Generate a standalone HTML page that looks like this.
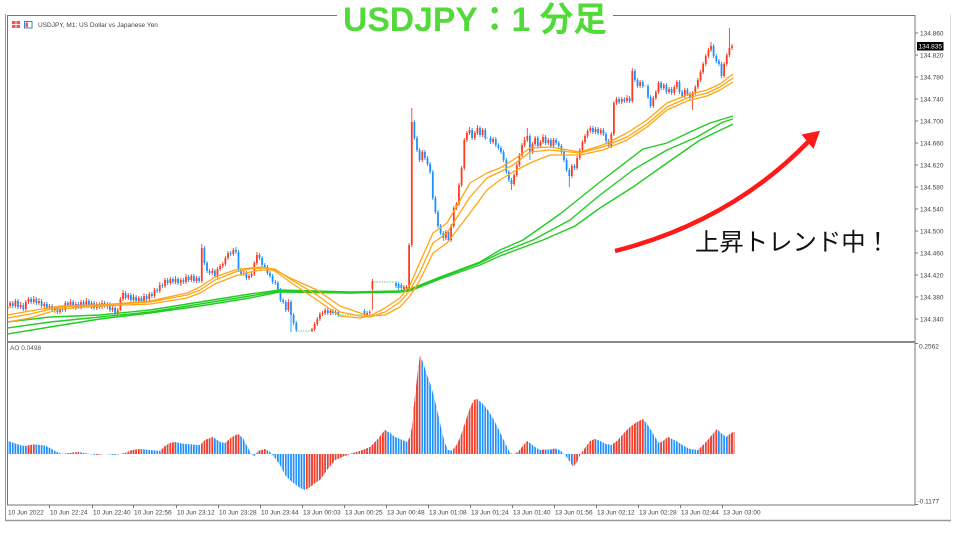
<!DOCTYPE html>
<html><head><meta charset="utf-8"><title>USDJPY M1</title>
<style>
html,body{margin:0;padding:0;background:#fff;width:960px;height:540px;overflow:hidden;}
svg{display:block;}
.ax{font-family:"Liberation Sans",sans-serif;font-size:6.5px;fill:#444;}
</style></head><body>
<svg width="960" height="540" viewBox="0 0 960 540" xmlns="http://www.w3.org/2000/svg">
<defs>
<clipPath id="cm"><rect x="8" y="16" width="907" height="325"/></clipPath>
<clipPath id="ca"><rect x="8" y="343" width="907" height="162"/></clipPath>
<clipPath id="cr">
<rect x="27" y="343" width="8" height="162"/><rect x="63" y="343" width="16" height="162"/>
<rect x="96" y="343" width="9" height="162"/><rect x="116" y="343" width="25" height="162"/>
<rect x="161" y="343" width="15" height="162"/><rect x="201" y="343" width="13" height="162"/>
<rect x="226" y="343" width="14" height="162"/><rect x="256" y="343" width="10" height="162"/>
<rect x="306" y="343" width="81" height="162"/><rect x="408" y="343" width="13" height="162"/>
<rect x="453" y="343" width="25" height="162"/><rect x="515" y="343" width="13" height="162"/>
<rect x="541" y="343" width="5" height="162"/><rect x="551" y="343" width="5" height="162"/>
<rect x="574" y="343" width="22" height="162"/><rect x="613" y="343" width="31" height="162"/>
<rect x="660" y="343" width="9" height="162"/><rect x="699" y="343" width="19" height="162"/>
<rect x="727" y="343" width="8" height="162"/>
</clipPath>
<pattern id="pb" patternUnits="userSpaceOnUse" x="6.65" y="0" width="2.625" height="540"><rect width="1.7" height="540" fill="#1e8fff"/></pattern>
<pattern id="pr" patternUnits="userSpaceOnUse" x="6.65" y="0" width="2.625" height="540"><rect width="1.7" height="540" fill="#ff3b1f"/></pattern>
</defs>
<rect width="960" height="540" fill="#fff"/>
<!-- frames -->
<line x1="5.5" y1="14" x2="5.5" y2="521" stroke="#999"/>
<line x1="950.5" y1="14" x2="950.5" y2="521" stroke="#ddd"/>
<line x1="5" y1="520.5" x2="951" y2="520.5" stroke="#999" stroke-width="1.5"/>
<rect x="7.5" y="15.5" width="907.5" height="489.5" fill="none" stroke="#777"/>
<line x1="7.5" y1="342" x2="915" y2="342" stroke="#888" stroke-width="2"/>

<!-- header -->
<rect x="12" y="21" width="8" height="7" fill="#e85a5a"/>
<line x1="16" y1="21" x2="16" y2="28" stroke="#fff" stroke-width="0.8"/>
<line x1="12" y1="24.5" x2="20" y2="24.5" stroke="#fff" stroke-width="0.8"/>
<rect x="24.5" y="21.5" width="7.5" height="6.5" fill="#fff" stroke="#3a7fe0" stroke-width="1"/>
<rect x="25.5" y="22.5" width="2.5" height="4.5" fill="#e85a5a"/>
<text class="ax" x="38" y="27" fill="#333">USDJPY, M1:  US Dollar vs Japanese Yen</text>

<!-- candles -->
<g clip-path="url(#cm)" fill="none">
<path stroke="#ff3b1f" stroke-width="0.9" d="M7.5 304V311M10.1 301V308M15.4 299V308M20.6 302V309M25.9 300V311M28.5 297V304M33.8 296V304M39 298V305M44.3 302V309M49.5 304V310M54.8 306V313M60 307V314M65.3 301V312M70.5 299V307M75.8 302V310M81 300V309M86.3 298V307M91.5 301V309M96.8 302V310M102 300V309M107.3 302V309M112.5 306V312M117.8 308V316M120.4 297V311M123 290V301M128.3 293V300M133.5 294V302M138.8 296V303M144 293V303M149.3 292V301M154.5 288V298M159.8 282V293M165 278V288M170.3 277V285M175.5 276V284M180.8 278V286M186 274V284M191.3 274V282M196.5 276V283M201.8 244V283M212.3 268V275M217.5 267V278M220.1 264V271M222.8 262V268M225.4 256V266M228 251V260M233.3 248V256M243.8 271V276M249 274V280M251.6 272V278M254.3 261V276M256.9 252V265M288.4 299V312M312 328V332M314.6 322V331M317.3 317V326M319.9 312V321M322.5 311V316M325.1 308V315M330.4 309V315M335.6 310V315M367.1 311V317M369.8 310V315M372.4 279V310M403.9 285V291M406.5 285V290M409.1 243V290M411.8 108V247M422.3 150V162M445.9 230V240M451.1 224V242M453.8 206V228M456.4 202V210M459 183V206M461.6 166V187M464.3 138V170M466.9 131V142M469.5 127V135M474.8 131V140M477.4 125V135M482.6 128V137M493.1 137V144M514.1 173V186M516.8 163V177M519.4 153V167M522 143V157M524.6 137V147M527.3 128V142M532.5 142V154M535.1 136V146M540.4 140V148M543 134V144M548.3 138V145M553.5 138V148M571.9 164V178M577.1 156V170M579.8 148V160M582.4 140V152M585 134V144M587.6 129V138M590.3 126V133M595.5 127V134M600.8 128V135M611.3 132V148M613.9 101V136M616.5 97V105M621.8 97V104M627 95V103M632.3 68V103M640.1 80V88M653.3 96V108M655.9 90V100M658.5 81V94M663.8 83V90M669 87V94M674.3 85V95M676.9 80V89M684.8 88V98M692.6 91V110M695.3 85V95M697.9 78V89M700.5 70V82M703.1 62V74M705.8 54V66M708.4 48V58M711 42V52M724.1 62V78M726.8 53V66M729.4 28V57M732 44V50"/>
<path stroke="#ff3b1f" stroke-width="1.8" d="M7.5 306V309M10.1 303V306M15.4 301V306M20.6 305V307M25.9 302V309M28.5 299V302M33.8 299V302M39 301V303M44.3 304V306M49.5 306V308M54.8 308V310M60 309V312M65.3 303V310M70.5 302V305M75.8 304V307M81 302V307M86.3 301V305M91.5 303V306M96.8 304V308M102 303V307M107.3 304V306M112.5 308V310M117.8 310V313M120.4 299V310M123 293V299M128.3 295V298M133.5 297V300M138.8 298V301M144 296V301M149.3 294V299M154.5 290V296M159.8 285V291M165 280V286M170.3 279V283M175.5 279V282M180.8 280V283M186 277V282M191.3 276V280M196.5 278V281M201.8 248V281M212.3 271V273M217.5 269V276M220.1 266V269M222.8 264V266M225.4 258V264M228 253V258M233.3 250V254M243.8 273V274M249 276V278M251.6 274V276M254.3 263V274M256.9 255V263M288.4 302V310M312 329V331M314.6 324V329M317.3 319V324M319.9 314V319M322.5 313V314M325.1 310V313M330.4 311V313M335.6 312V313M367.1 313V315M369.8 312V313M372.4 281V289M403.9 287V289M406.5 287V288M409.1 245V288M411.8 122V245M422.3 152V160M445.9 232V238M451.1 226V240M453.8 208V226M456.4 204V208M459 185V204M461.6 168V185M464.3 140V168M466.9 133V140M469.5 130V133M474.8 133V138M477.4 128V133M482.6 130V135M493.1 139V142M514.1 175V184M516.8 165V175M519.4 155V165M522 145V155M524.6 140V145M527.3 136V140M532.5 144V152M535.1 138V144M540.4 142V146M543 137V142M548.3 140V143M553.5 140V146M571.9 166V176M577.1 158V168M579.8 150V158M582.4 142V150M585 136V142M587.6 131V136M590.3 128V131M595.5 129V132M600.8 130V133M611.3 134V146M613.9 103V134M616.5 99V103M621.8 99V102M627 98V101M632.3 71V101M640.1 82V86M653.3 98V106M655.9 92V98M658.5 83V92M663.8 85V88M669 89V92M674.3 87V93M676.9 82V87M684.8 90V96M692.6 93V98M695.3 87V93M697.9 80V87M700.5 72V80M703.1 64V72M705.8 56V64M708.4 50V56M711 46V50M724.1 64V76M726.8 55V64M729.4 48V55M732 46V48"/>
<path stroke="#1e8fff" stroke-width="0.9" d="M12.8 301V308M18 299V309M23.3 303V311M31.1 297V304M36.4 297V305M41.6 299V308M46.9 302V310M52.1 304V312M57.4 306V314M62.6 307V312M67.9 301V307M73.1 300V309M78.4 302V309M83.6 300V307M88.9 299V308M94.1 301V310M99.4 302V309M104.6 301V308M109.9 302V312M115.1 306V315M125.6 291V300M130.9 293V302M136.1 295V303M141.4 296V303M146.6 294V301M151.9 292V298M157.1 288V293M162.4 283V288M167.6 278V285M172.9 277V284M178.1 277V285M183.4 278V284M188.6 275V282M193.9 274V283M199.1 276V283M204.4 246V265M207 261V273M209.6 269V275M214.9 269V278M230.6 251V256M235.9 247V254M238.5 250V272M241.1 268V276M246.4 271V280M259.5 253V260M262.1 256V267M264.8 263V269M267.4 265V275M270 271V278M272.6 274V284M275.3 280V285M277.9 281V292M280.5 288V302M283.1 298V304M285.8 300V312M291 300V332M293.6 313V325M296.3 321V332M327.8 308V315M333 309V315M338.3 310V317M364.5 309V317M396 281V288M398.6 282V290M401.3 283V290M414.4 120V140M417 136V152M419.6 148V162M424.9 150V160M427.5 156V166M430.1 162V174M432.8 170V200M435.4 196V214M438 210V228M440.6 224V235M443.3 231V241M448.5 230V242M472.1 128V140M480 126V137M485.3 128V140M490.5 136V144M495.8 137V147M498.4 143V150M501 146V154M503.6 150V162M506.3 158V174M508.9 170V182M511.5 178V190M529.9 134V160M537.8 136V148M545.6 135V145M550.9 138V148M556.1 138V145M558.8 141V148M561.4 144V154M564 150V162M566.6 158V172M569.3 168V187M574.5 164V170M592.9 126V134M598.1 127V135M603.4 128V136M606 132V143M608.6 139V148M619.1 97V104M624.4 97V103M629.6 96V103M634.9 69V82M637.5 78V88M642.8 80V88M648 84V99M650.6 95V108M661.1 81V90M666.4 83V94M671.6 87V95M679.5 80V94M682.1 90V98M687.4 88V96M690 92V100M713.6 44V58M716.3 54V63M718.9 59V66M721.5 62V78"/>
<path stroke="#1e8fff" stroke-width="1.8" d="M12.8 303V306M18 301V307M23.3 305V309M31.1 299V302M36.4 299V303M41.6 301V306M46.9 304V308M52.1 306V310M57.4 308V312M62.6 309V310M67.9 303V305M73.1 302V307M78.4 304V307M83.6 302V305M88.9 301V306M94.1 303V308M99.4 304V307M104.6 303V306M109.9 304V310M115.1 308V313M125.6 293V298M130.9 295V300M136.1 297V301M141.4 298V301M146.6 296V299M151.9 294V296M157.1 290V291M162.4 285V286M167.6 280V283M172.9 279V282M178.1 279V283M183.4 280V282M188.6 277V280M193.9 276V281M199.1 278V281M204.4 248V263M207 263V271M209.6 271V273M214.9 271V276M230.6 253V254M235.9 250V252M238.5 252V270M241.1 270V274M246.4 273V278M259.5 255V258M262.1 258V265M264.8 265V267M267.4 267V273M270 273V276M272.6 276V282M275.3 282V283M277.9 283V290M280.5 290V300M283.1 300V302M285.8 302V310M291 302V315M293.6 315V323M296.3 323V330M327.8 310V313M333 311V313M338.3 312V315M364.5 311V315M396 283V286M398.6 284V288M401.3 285V288M414.4 122V138M417 138V150M419.6 150V160M424.9 152V158M427.5 158V164M430.1 164V172M432.8 172V198M435.4 198V212M438 212V226M440.6 226V233M443.3 233V238M448.5 232V240M472.1 130V138M480 128V135M485.3 130V138M490.5 138V142M495.8 139V145M498.4 145V148M501 148V152M503.6 152V160M506.3 160V172M508.9 172V180M511.5 180V184M529.9 136V152M537.8 138V146M545.6 137V143M550.9 140V146M556.1 140V143M558.8 143V146M561.4 146V152M564 152V160M566.6 160V170M569.3 170V176M574.5 166V168M592.9 128V132M598.1 129V133M603.4 130V134M606 134V141M608.6 141V146M619.1 99V102M624.4 99V101M629.6 98V101M634.9 71V80M637.5 80V86M642.8 82V86M648 86V97M650.6 97V106M661.1 83V88M666.4 85V92M671.6 89V93M679.5 82V92M682.1 92V96M687.4 90V94M690 94V98M713.6 46V56M716.3 56V61M718.9 61V64M721.5 64V76"/>
<path stroke="#66cc66" stroke-width="1" stroke-dasharray="1.5 1.1" d="M297.6 331H310.7M339.6 315H363.2M373.7 282H394.7M486.6 138H489.2M644.1 86H646.7"/>
<!-- moving averages -->
<g stroke="#22cc22" stroke-width="1.4" stroke-linejoin="round">
<polyline points="7.5,322 50,317 100,315 150,310 200,302 250,294 280,290 350,292 400,291 410,289 440,277 480,262 500,250 523,240 560,214 600,182 643,149 667,143 690,132 710,123 733,116"/>
<polyline points="7.5,328 50,322 100,317 150,312 200,304 250,296 280,291 350,293 400,292 410,290 440,278 480,263 500,253 533,240 570,220 600,195 633,170 667,150 697,137 723,122 733,119"/>
<polyline points="7.5,334 50,327 100,319 150,313 200,306 250,298 280,292 350,293 400,292 410,291 440,279 480,265 500,256 543,240 575,226 600,208 633,187 667,163 700,140 733,124"/>
</g>
<g stroke="#ffa516" stroke-width="1.3" stroke-linejoin="round">
<polyline points="7.5,315 30,311 60,306 100,305 150,301 187,293 200,287 215,277 235,270 250,268 262,267 275,271 290,282 317,300 340,316 360,318 370,316 385,308 400,298 410,285 420,262 433,233 447,223 470,183 487,173 500,168 513,160 530,148 550,147 580,152 603,145 627,133 647,120 667,103 687,95 707,90 720,84 733,74"/>
<polyline points="7.5,318 30,314 60,307 100,305 150,302 187,295 200,290 215,280 235,272 250,269 262,268 275,269 290,279 317,295 340,312 360,316 370,317 385,312 400,302 410,290 420,272 433,243 447,233 470,197 487,178 500,172 513,165 530,152 550,150 580,153 603,147 627,137 647,124 667,107 687,98 707,93 720,87 733,78"/>
<polyline points="7.5,322 30,318 60,309 100,306 150,304 187,298 200,293 215,284 235,276 250,272 262,270 275,270 290,278 317,290 340,306 360,313 370,316 385,315 400,307 410,296 420,280 433,253 447,243 470,213 487,190 500,180 513,172 530,163 550,155 580,155 603,150 627,140 647,127 667,110 687,101 707,96 720,90 733,82"/>
</g>
</g>

<!-- AO histogram -->
<g clip-path="url(#ca)">
<polygon id="aoshape" fill="url(#pb)" points="6.5,441 8,441 14,443 20,445 25,446 30,445 35,444.5 45,445.5 50,448 55,451 62,454 70,453 78,452 85,453 95,455 105,454 115,455 125,453 132,450 140,449 150,450 160,451 165,446 170,443 175,442 185,444 200,445 205,440 213,437 220,442 225,443 232,437 238,434 243,438 248,448 252,455 255,456 258,451 265,449 270,452 275,458 280,465 285,475 292,482 300,488 305,490 310,487 315,483 320,480 327,470 335,460 342,457 350,454 360,451 370,447 377,440 385,430 390,433 395,437 400,439 407,442 410,437 412,427 414,405 416,387 418,370 420,356 423,362 426,372 430,383 433,393 436,405 439,418 442,432 445,443 448,450 452,450.5 456,446 460,438 464,426 467,417 470,408 474,400 477,399 482,403 488,410 494,420 500,432 505,443 510,453 514,454 518,452 522,447 527,441 530,443 535,447 540,450 545,449.5 550,449.5 555,448.5 560,450 565,455 570,462 573,467 577,462 580,455 585,448 590,441 595,439 600,441 606,444 612,445 618,440 624,433 630,427 637,422 643,419 647,424 651,430 655,437 659,443 663,441 668,437 672,439 678,442 684,446 690,449 698,450 702,446 707,441 712,435 717,429 721,433 726,437 730,434 733,432 734.5,432 734.5,454 6.5,454"/>
</g>
<g clip-path="url(#cr)">
<polygon fill="url(#pr)" points="6.5,441 8,441 14,443 20,445 25,446 30,445 35,444.5 45,445.5 50,448 55,451 62,454 70,453 78,452 85,453 95,455 105,454 115,455 125,453 132,450 140,449 150,450 160,451 165,446 170,443 175,442 185,444 200,445 205,440 213,437 220,442 225,443 232,437 238,434 243,438 248,448 252,455 255,456 258,451 265,449 270,452 275,458 280,465 285,475 292,482 300,488 305,490 310,487 315,483 320,480 327,470 335,460 342,457 350,454 360,451 370,447 377,440 385,430 390,433 395,437 400,439 407,442 410,437 412,427 414,405 416,387 418,370 420,356 423,362 426,372 430,383 433,393 436,405 439,418 442,432 445,443 448,450 452,450.5 456,446 460,438 464,426 467,417 470,408 474,400 477,399 482,403 488,410 494,420 500,432 505,443 510,453 514,454 518,452 522,447 527,441 530,443 535,447 540,450 545,449.5 550,449.5 555,448.5 560,450 565,455 570,462 573,467 577,462 580,455 585,448 590,441 595,439 600,441 606,444 612,445 618,440 624,433 630,427 637,422 643,419 647,424 651,430 655,437 659,443 663,441 668,437 672,439 678,442 684,446 690,449 698,450 702,446 707,441 712,435 717,429 721,433 726,437 730,434 733,432 734.5,432 734.5,454 6.5,454"/>
</g>

<!-- right axis -->
<g stroke="#777" stroke-width="1">
<line x1="915" y1="33" x2="918" y2="33"/><line x1="915" y1="55" x2="918" y2="55"/>
<line x1="915" y1="77" x2="918" y2="77"/><line x1="915" y1="99" x2="918" y2="99"/>
<line x1="915" y1="121" x2="918" y2="121"/><line x1="915" y1="143" x2="918" y2="143"/>
<line x1="915" y1="165" x2="918" y2="165"/><line x1="915" y1="187" x2="918" y2="187"/>
<line x1="915" y1="209" x2="918" y2="209"/><line x1="915" y1="231" x2="918" y2="231"/>
<line x1="915" y1="253" x2="918" y2="253"/><line x1="915" y1="275" x2="918" y2="275"/>
<line x1="915" y1="297" x2="918" y2="297"/><line x1="915" y1="319" x2="918" y2="319"/>
<line x1="915" y1="343.5" x2="918" y2="343.5"/><line x1="915" y1="504.5" x2="918" y2="504.5"/>
</g>
<text class="ax" x="920" y="35.3">134.860</text>
<text class="ax" x="920" y="57.3">134.820</text>
<text class="ax" x="920" y="79.3">134.780</text>
<text class="ax" x="920" y="101.3">134.740</text>
<text class="ax" x="920" y="123.3">134.700</text>
<text class="ax" x="920" y="145.3">134.660</text>
<text class="ax" x="920" y="167.3">134.620</text>
<text class="ax" x="920" y="189.3">134.580</text>
<text class="ax" x="920" y="211.3">134.540</text>
<text class="ax" x="920" y="233.3">134.500</text>
<text class="ax" x="920" y="255.3">134.460</text>
<text class="ax" x="920" y="277.3">134.420</text>
<text class="ax" x="920" y="299.3">134.380</text>
<text class="ax" x="920" y="321.3">134.340</text>
<rect x="917" y="42" width="26.5" height="8.5" fill="#000"/>
<text class="ax" x="918.5" y="48.6" style="fill:#fff">134.835</text>
<text class="ax" x="919" y="348.5">0.2562</text>
<text class="ax" x="917.5" y="503.5">-0.1177</text>
<text class="ax" x="10" y="350" style="fill:#555">AO 0.0498</text>

<!-- time axis -->
<g stroke="#777" stroke-width="1">
<line x1="49.5" y1="505" x2="49.5" y2="508"/><line x1="92.5" y1="505" x2="92.5" y2="508"/>
<line x1="133.5" y1="505" x2="133.5" y2="508"/><line x1="176.5" y1="505" x2="176.5" y2="508"/>
<line x1="218.5" y1="505" x2="218.5" y2="508"/><line x1="260.5" y1="505" x2="260.5" y2="508"/>
<line x1="302.5" y1="505" x2="302.5" y2="508"/><line x1="344.5" y1="505" x2="344.5" y2="508"/>
<line x1="386.5" y1="505" x2="386.5" y2="508"/><line x1="428.5" y1="505" x2="428.5" y2="508"/>
<line x1="470.5" y1="505" x2="470.5" y2="508"/><line x1="512.5" y1="505" x2="512.5" y2="508"/>
<line x1="554.5" y1="505" x2="554.5" y2="508"/><line x1="596.5" y1="505" x2="596.5" y2="508"/>
<line x1="638.5" y1="505" x2="638.5" y2="508"/><line x1="680.5" y1="505" x2="680.5" y2="508"/>
<line x1="722.5" y1="505" x2="722.5" y2="508"/>
</g>
<text class="ax" x="8" y="514.5">10 Jun 2022</text>
<text class="ax" x="50" y="514.5">10 Jun 22:24</text>
<text class="ax" x="93" y="514.5">10 Jun 22:40</text>
<text class="ax" x="134" y="514.5">10 Jun 22:56</text>
<text class="ax" x="177" y="514.5">10 Jun 23:12</text>
<text class="ax" x="219" y="514.5">10 Jun 23:28</text>
<text class="ax" x="261" y="514.5">10 Jun 23:44</text>
<text class="ax" x="303" y="514.5">13 Jun 00:03</text>
<text class="ax" x="345" y="514.5">13 Jun 00:25</text>
<text class="ax" x="387" y="514.5">13 Jun 00:48</text>
<text class="ax" x="429" y="514.5">13 Jun 01:08</text>
<text class="ax" x="471" y="514.5">13 Jun 01:24</text>
<text class="ax" x="513" y="514.5">13 Jun 01:40</text>
<text class="ax" x="555" y="514.5">13 Jun 01:56</text>
<text class="ax" x="597" y="514.5">13 Jun 02:12</text>
<text class="ax" x="639" y="514.5">13 Jun 02:28</text>
<text class="ax" x="681" y="514.5">13 Jun 02:44</text>
<text class="ax" x="723" y="514.5">13 Jun 03:00</text>

<!-- title -->
<rect x="337" y="0" width="276" height="36" fill="#fff"/>
<text x="343" y="31" font-family="Liberation Sans, Noto Sans CJK JP, sans-serif" font-weight="bold" font-size="34" fill="#52d93a" textLength="264" lengthAdjust="spacingAndGlyphs">USDJPY：1 分足</text>

<!-- arrow -->
<path d="M615 251 Q730 222 808 142" fill="none" stroke="#ff1a1a" stroke-width="4.5"/>
<polygon points="820,130.7 801.5,134.5 813.5,149" fill="#ff1a1a"/>
<text x="695" y="250.5" font-family="Liberation Sans, Noto Sans CJK JP, sans-serif" font-size="24.5" fill="#111" textLength="195" lengthAdjust="spacingAndGlyphs">上昇トレンド中！</text>
</svg>
</body></html>
